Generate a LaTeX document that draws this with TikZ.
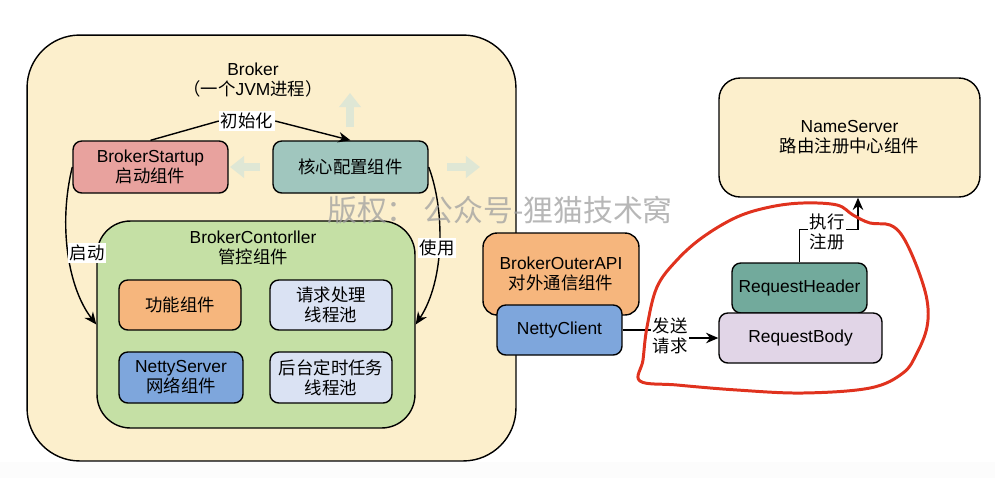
\documentclass[tikz,border=0pt]{standalone}
\usepackage{fontspec}
\setmainfont{Liberation Sans}
\newfontfamily\cjk{Noto Sans CJK SC}
\usepackage{tikz}
\usetikzlibrary{arrows.meta}

\definecolor{brokerbg}{HTML}{FCEFCC}
\definecolor{startfill}{HTML}{E8A29E}
\definecolor{configfill}{HTML}{A0C6BE}
\definecolor{ctrlfill}{HTML}{C5E0A5}
\definecolor{orangefill}{HTML}{F6B67D}
\definecolor{poolfill}{HTML}{DAE2F3}
\definecolor{nettyfill}{HTML}{7EA6DC}
\definecolor{headerfill}{HTML}{72AA9C}
\definecolor{bodyfill}{HTML}{E1D5E7}
\definecolor{hintcol}{HTML}{DFE7D5}
\definecolor{redmark}{HTML}{E0321E}

\begin{document}
\begin{tikzpicture}[x=0.02cm, y=-0.02cm,
  comp/.style={draw, line width=0.8pt, rounded corners=5pt, align=center, inner sep=0pt,
    font=\fontsize{9.9}{11.5}\selectfont},
  cn/.style={font=\cjk\fontsize{9.9}{11.5}\selectfont},
  arr/.style={line width=0.8pt, -{Stealth[length=7pt,width=6pt]}},
  lbl/.style={fill=white, inner sep=1pt, align=center, font=\cjk\fontsize{9.9}{11.5}\selectfont},
  hint/.style={line width=5pt, draw=hintcol, -{Triangle[length=8pt,width=12pt]}}]
\useasboundingbox (0,0) rectangle (995,478);
\fill[gray!2] (0,462) rectangle (995,478);

% Broker process
\node[comp, fill=brokerbg, minimum width=9.78cm, minimum height=8.52cm, rounded corners=30pt] (broker) at (271.5,248) {};
\node[align=center, font=\fontsize{9.9}{11.5}\selectfont] (brokertitle) at (253,80) {Broker\\{\cjk （一个}JVM{\cjk 进程）}};
\draw[hint] (350,127) -- (350,93);
\draw[hint] (260,167) -- (230,167);
\draw[hint] (447,167) -- (480,167);
\node[comp, fill=startfill, minimum width=3.1cm, minimum height=1.04cm] (startup) at (150.5,167) {BrokerStartup\\\cjk 启动组件};
\node[comp, cn, fill=configfill, minimum width=3.1cm, minimum height=1.04cm] (config) at (350.5,167) {核心配置组件};

\node[comp, fill=ctrlfill, minimum width=6.36cm, minimum height=4.14cm, rounded corners=19pt] (ctrl) at (256,324.5) {};
\node[align=center, font=\fontsize{9.9}{11.5}\selectfont] (ctrltitle) at (253,248) {BrokerContorller\\\cjk 管控组件};
\node[comp, cn, fill=orangefill, minimum width=2.44cm, minimum height=1.0cm] (func) at (180,305) {功能组件};
\node[comp, cn, fill=poolfill, minimum width=2.44cm, minimum height=1.0cm] (reqpool) at (331,305) {请求处理\\线程池};
\node[comp, fill=nettyfill, minimum width=2.48cm, minimum height=1.02cm] (nettyserver) at (181,377.5) {NettyServer\\\cjk 网络组件};
\node[comp, cn, fill=poolfill, minimum width=2.44cm, minimum height=1.02cm] (bgpool) at (331,377.5) {后台定时任务\\线程池};

\node[lbl] (init) at (247,121) {初始化};
\draw[line width=0.8pt] (startup.north) -- (init.west);
\draw[arr] (init.east) -- (config.north);
\draw[arr] (startup.west) .. controls (58,225) and (68,288) .. (ctrl.west);
\draw[arr] (config.east) .. controls (445,210) and (445,280) .. (ctrl.east);
\node[lbl] (startlbl) at (87,253) {启动};
\node[lbl] (uselbl) at (437,248) {使用};

% outer API
\node[comp, fill=orangefill, minimum width=3.12cm, minimum height=1.64cm, rounded corners=8pt] (outer) at (561,274) {BrokerOuterAPI\\\cjk 对外通信组件};
\node[comp, fill=nettyfill, minimum width=2.5cm, minimum height=1.0cm] (client) at (559.5,330) {NettyClient};

% NameServer side
\node[comp, fill=brokerbg, minimum width=5.22cm, minimum height=2.38cm, rounded corners=12pt] (ns) at (849.5,137.5) {NameServer\\\cjk 路由注册中心组件};
\node[comp, fill=headerfill, minimum width=2.7cm, minimum height=1.0cm] (header) at (799.5,288) {RequestHeader};
\node[comp, fill=bodyfill, minimum width=3.26cm, minimum height=1.0cm] (body) at (800.5,338) {RequestBody};

\draw[arr] (client.east) -- ++(48,0) |- (body.west);
\node[lbl] (sendlbl) at (670,336) {发送\\请求};
\draw[arr] (header.north) -- ++(0,-33) -| ([xshift=0.17cm]ns.south);
\node[lbl] (reglbl) at (827,232) {执行\\注册};

\draw[redmark, line width=1.7pt] plot[smooth cycle, tension=0.6] coordinates {(640,381) (643,360) (647,327) (657,287) (677,260) (703,237) (737,217) (770,207) (803,203) (837,205) (853,215) (870,223) (890,225) (903,237) (917,267) (927,300) (927,327) (917,353) (903,373) (870,388) (803,393) (737,390) (677,385)};

\node[text=gray!75, opacity=0.75, font=\cjk\fontsize{17}{20}\selectfont] (watermark) at (500,210) {版权： 公众号-狸猫技术窝};
\end{tikzpicture}
\end{document}
